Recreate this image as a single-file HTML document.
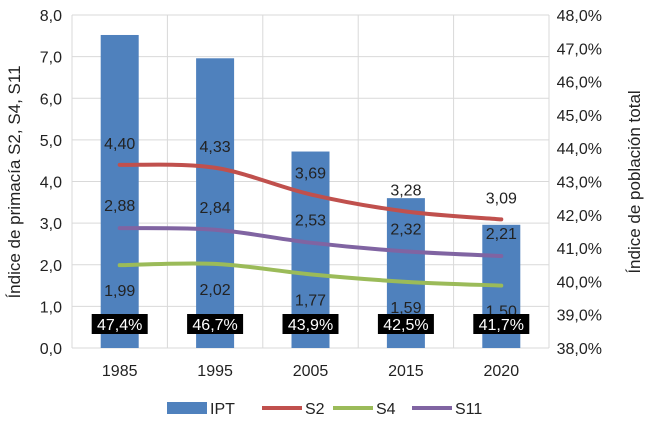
<!DOCTYPE html>
<html><head><meta charset="utf-8"><style>
body{margin:0;background:#fff}
svg text{font-family:"Liberation Sans",sans-serif;fill:#222}
</style></head><body>
<svg id="c" width="650" height="420" xmlns="http://www.w3.org/2000/svg"></svg>
<script>
const categories=["1985","1995","2005","2015","2020"];
const ipt=[47.4,46.7,43.9,42.5,41.7];
const s2=[4.40,4.33,3.69,3.28,3.09];
const s4=[1.99,2.02,1.77,1.59,1.50];
const s11=[2.88,2.84,2.53,2.32,2.21];
const leftTicks=[0,1,2,3,4,5,6,7,8];
const rightTicks=[38,39,40,41,42,43,44,45,46,47,48];
const L=72,R=549,T=15,B=348;
const band=(R-L)/categories.length;
const x=i=>L+band*(i+0.5);
const yl=v=>B-(v/8)*(B-T);
const yr=v=>B-((v-38)/10)*(B-T);
const svg=document.getElementById('c');
const NS="http://www.w3.org/2000/svg";
function mk(t,a,p){const e=document.createElementNS(NS,t);for(const k in a)e.setAttribute(k,a[k]);(p||svg).appendChild(e);return e;}
const fmt=(v,d)=>v.toFixed(d).replace('.',',');
leftTicks.forEach(v=>{
 const g=mk('line',{x1:L,x2:R,y1:yl(v),y2:yl(v),stroke:'#d9d9d9','stroke-width':1});
 
 
 const t=mk('text',{x:L-10,y:yl(v)+6,'text-anchor':'end','font-size':16});
 t.textContent=fmt(v,1);
 
 
});
for(let i=0;i<=categories.length;i++){
 const g=mk('line',{x1:L+band*i,x2:L+band*i,y1:T,y2:B,stroke:'#d9d9d9','stroke-width':1});
 
 
}
rightTicks.forEach(v=>{
 const t=mk('text',{x:602,y:yr(v)+6,'text-anchor':'end','font-size':16});
 t.textContent=fmt(v,1)+'%';
 
 
});
ipt.forEach((v,i)=>{
 const r=mk('rect',{x:x(i)-19,y:yr(v),width:38,height:B-yr(v),fill:'#4f81bd'});
 
 
 const t=mk('text',{x:x(i),y:B+28,'text-anchor':'middle','font-size':16});
 t.textContent=categories[i];
 
 
});
function smooth(vals){
 const p=vals.map((v,i)=>[x(i),yl(v)]);
 let d='M'+p[0][0]+','+p[0][1];
 for(let i=0;i<p.length-1;i++){
  const p0=p[i-1]||p[i],p1=p[i],p2=p[i+1],p3=p[i+2]||p[i+1];
  const c1=[p1[0]+(p2[0]-p0[0])/6,p1[1]+(p2[1]-p0[1])/6];
  const c2=[p2[0]-(p3[0]-p1[0])/6,p2[1]-(p3[1]-p1[1])/6];
  d+=' C'+c1+' '+c2+' '+p2;
 }
 return d;
}
const series=[[s2,'#c0504d','s2',-16],[s11,'#8064a2','s11',-17],[s4,'#9bbb59','s4',31]];
series.forEach(([vals,col,name,off])=>{
 const p=mk('path',{d:smooth(vals),fill:'none',stroke:col,'stroke-width':4,'stroke-linecap':'round'});
 
 
 vals.forEach((v,i)=>{
  const t=mk('text',{x:x(i),y:yl(v)+off,'text-anchor':'middle','font-size':16});
  t.textContent=fmt(v,2);
  
  
 });
});
ipt.forEach((v,i)=>{
 const r=mk('rect',{x:x(i)-28,y:314,width:56,height:20,fill:'#000'});
 
 
 const t=mk('text',{x:x(i),y:330,'text-anchor':'middle','font-size':16});
 t.setAttribute('style','fill:#fff');
 t.textContent=fmt(v,1)+'%';
 
 
});
const lt=mk('text',{x:0,y:0,'text-anchor':'middle','font-size':17,transform:'translate(20,182) rotate(-90)'});
lt.textContent='Índice de primacía S2, S4, S11';


const rt=mk('text',{x:0,y:0,'text-anchor':'middle','font-size':17,transform:'translate(640,182) rotate(-90)'});
rt.textContent='Índice de población total';


const leg=[['IPT','#4f81bd',167,true],['S2','#c0504d',262,false],['S4','#9bbb59',333,false],['S11','#8064a2',412,false]];
leg.forEach(([n,c,lx,box])=>{
 const g=mk('g',{});
 
 
 if(box)mk('rect',{x:lx,y:402,width:40,height:12,fill:c},g);
 else mk('line',{x1:lx,x2:lx+40,y1:408,y2:408,stroke:c,'stroke-width':4},g);
 const t=mk('text',{x:lx+43,y:414,'font-size':16},g);
 t.textContent=n;
});
</script>
</body></html>
